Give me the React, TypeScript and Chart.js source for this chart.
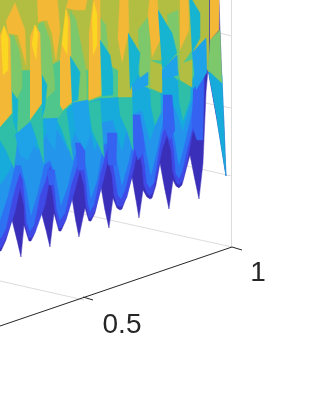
import React, { useEffect, useRef } from "react";
import { Chart, registerables } from "chart.js";

Chart.register(...registerables);

type P = number[];
// Surface regions, one list per colour band (back to front).
const indigoRegions: P[][] = [
  [[0,-5],[219,-5],[219,0],[220,30],[222,83],[224,125],[226,176],[217,120],[208,70],[206,93],[204,140],[203,163],[199,199],[195,180],[190,155],[186,170],[182,185],[179,188],[176,186],[173,180],[169,209],[165,190],[160,163],[156,185],[152,198],[150,199],[147,197],[143,190],[139,218],[136,200],[132,177],[126,198],[122,209],[120,210],[117,208],[113,198],[109,228],[105,210],[101,187],[95,213],[91,221],[89,221],[85,208],[79,237],[76,222],[72,198],[65,222],[61,231],[59,231],[54,213],[50,247],[46,230],[41,211],[34,235],[31,241],[29,241],[24,225],[21,257],[17,240],[12,220],[6,240],[1,251],[0,251]],
];
const mediumRegions: P[][] = [
  [[205,-5],[204,100],[202,135],[197,120],[192,135],[188,158],[183,180],[179,185],[176,182],[173,172],[171,150],[167,135],[162,150],[158,170],[153,192],[150,196],[147,193],[144,185],[142,165],[138,148],[134,168],[127,197],[122,206],[120,207],[117,205],[114,195],[112,175],[108,160],[104,178],[95,211],[91,218],[89,218],[86,206],[84,185],[80,170],[75,190],[66,220],[61,228],[59,228],[55,211],[53,195],[50,178],[45,205],[35,233],[31,238],[29,238],[25,224],[24,205],[20,188],[15,212],[6,238],[1,248],[0,248],[0,-5]],
];
const blueRegions: P[][] = [
  [[203,-5],[200,100],[198,110],[193,125],[187,150],[182,172],[179,178],[176,174],[174,150],[171,130],[167,120],[162,135],[159,150],[154,182],[150,188],[147,183],[145,165],[142,145],[138,135],[134,150],[131,165],[125,190],[121,199],[118,195],[115,175],[112,155],[108,145],[104,160],[100,175],[94,205],[90,211],[88,202],[86,180],[84,165],[80,155],[76,170],[71,185],[65,213],[60,220],[57,210],[55,190],[53,175],[50,165],[45,182],[40,195],[34,225],[30,231],[27,222],[25,200],[23,180],[20,172],[16,185],[12,200],[6,228],[1,238],[0,238],[0,-5]],
];
const azureRegions: P[][] = [
  [[200,-5],[196,90],[190,120],[183,150],[179,165],[175,140],[170,115],[163,120],[157,150],[151,175],[147,155],[143,130],[135,130],[129,160],[122,185],[117,160],[112,140],[103,145],[97,180],[91,198],[87,170],[82,150],[75,155],[68,185],[61,205],[56,175],[50,160],[44,165],[37,195],[31,215],[26,185],[21,165],[15,165],[8,195],[0,220],[0,-5]],
];
const cyanRegions: P[][] = [
  [[0,-5],[206,-5],[205,72],[198,88],[190,105],[183,130],[176,110],[165,95],[157,120],[150,140],[142,110],[130,115],[122,150],[113,120],[102,122],[95,150],[88,120],[78,125],[68,150],[58,130],[48,130],[38,150],[28,135],[18,135],[10,170],[0,185]],
  [[208,70],[222,75],[224,125],[226,176],[217,120]],
];
const blueColumns: P[][] = [
  [[133,115],[140,115],[145,150],[138,160],[133,140]],
  [[163,95],[172,95],[175,130],[170,140],[163,125]],
  [[193,90],[204,75],[203,140],[197,140],[192,125]],
  [[75,143],[85,143],[85,170],[78,170]],
  [[107,133],[117,133],[116,165],[108,165]],
  [[47,170],[55,170],[54,185],[49,185]],
];
const seaRegions: P[][] = [
  [[0,-5],[207,-5],[207,40],[195,72],[190,85],[178,80],[166,70],[150,90],[136,70],[118,97],[100,98],[88,102],[70,105],[60,118],[44,118],[30,122],[18,133],[0,127]],
];
const tealRegions: P[][] = [
  [[0,127],[12,113],[18,133],[14,168],[6,150],[0,140]],
  [[30,120],[42,103],[44,163],[37,140]],
  [[57,120],[66,108],[73,160],[62,130]],
  [[88,103],[100,100],[104,157],[92,130]],
  [[118,97],[132,97],[133,150],[127,130],[120,115]],
  [[150,88],[160,85],[161,112],[155,125],[151,105]],
  [[178,80],[191,75],[190,100],[183,120],[179,100]],
];
const oliveRegions: P[][] = [
  [[0,-5],[209,-5],[209,72],[192,50],[178,70],[166,60],[148,60],[132,70],[118,70],[101,60],[88,70],[60,60],[42,70],[30,70],[12,70],[0,70]],
  [[118,60],[132,60],[132,97],[118,97]],
  [[148,60],[162,65],[162,93],[150,88]],
  [[178,65],[192,60],[192,87],[180,80]],
  [[88,60],[101,60],[101,96],[88,100]],
];
const greenRegions: P[][] = [
  [[8,35],[14,36],[19,50],[22,70],[22,88],[16,100],[12,90]],
  [[38,25],[43,21],[50,40],[54,75],[55,90],[42,103]],
  [[70,10],[76,20],[82,50],[86,70],[87,100],[72,102]],
  [[98,15],[106,25],[108,50],[113,75],[113,95],[101,95]],
  [[138,30],[148,17],[150,40],[150,88],[140,85]],
  [[167,15],[178,10],[180,70],[170,60]],
  [[210,40],[220,30],[222,83],[208,70]],
];
const orangeRegions: P[][] = [
  [[0,35],[4,26],[10,38],[12,113],[0,127]],
  [[6,22],[15,3],[25,30],[26,65],[18,35],[8,33]],
  [[30,37],[35,25],[40,33],[42,103],[30,120]],
  [[37,-5],[57,-5],[60,30],[56,60],[52,33],[47,20],[38,22]],
  [[60,60],[66,8],[70,20],[72,102],[63,110],[60,105]],
  [[66,8],[70,-5],[88,-5],[85,10],[75,10]],
  [[89,35],[94,-5],[100,-5],[101,95],[89,100]],
  [[118,40],[120,-5],[128,-5],[129,30],[122,63]],
  [[148,17],[150,-5],[157,-5],[160,40],[152,57]],
  [[180,10],[180,-5],[188,-5],[189,30],[180,50]],
  [[210,-5],[219,-5],[219,30],[210,40]],
];
const yellowRegions: P[][] = [
  [[1,38],[4,26],[8,38],[8,70],[3,75]],
  [[32,45],[35,25],[38,33],[36,60]],
  [[62,45],[66,10],[68,22],[67,55]],
  [[92,20],[94,2],[97,15],[97,45],[93,55]],
];
const cyanWedges: P[][] = [
  [[12,92],[18,100],[17,133],[13,120]],
  [[42,75],[47,85],[45,108],[42,118]],
  [[70,56],[80,72],[78,100],[72,102]],
  [[100,40],[110,55],[113,75],[113,95],[102,96]],
  [[128,33],[140,53],[138,75],[132,85],[130,90]],
  [[158,10],[172,33],[177,53],[165,67],[162,68]],
  [[189,-5],[200,13],[200,38],[192,53]],
];
const azureWedges: P[][] = [
  [[162,70],[177,55],[178,75],[162,80]],
  [[192,53],[206,38],[207,72],[196,90]],
  [[132,85],[140,78],[148,72],[148,85],[133,92]],
  [[72,103],[88,100],[90,135],[85,150],[76,135]],
  [[44,120],[57,118],[55,150],[48,140]],
  [[15,135],[30,122],[36,140],[28,160],[20,155]],
];

// Box lines and axis, in the same picture units.
const wallLines: P[][] = [
  [[231.5,0],[231.5,247]],
  [[220,33],[231.5,36]],
  [[205,103],[231.5,108]],
  [[187,166],[231.5,176]],
  [[60,209],[232,247]],
  [[0,281],[84,300]],
];
const axisLine: P[] = [[0,326],[232,247]];
const axisTicks: P[][] = [
  [[83,297],[93,300]],
  [[232,247],[242,250]],
];
const tickLabels = ["0.5", "1"];
const tickLabelAnchors: P[] = [[122,333],[258,281]];

const regionBands: [P[][], string][] = [
  [indigoRegions, "#3A2FB9"],
  [mediumRegions, "#3F49E5"],
  [blueRegions, "#2E72F3"],
  [azureRegions, "#2396EC"],
  [cyanRegions, "#17ABDC"],
  [blueColumns, "#3562F0"],
  [seaRegions, "#4FC78C"],
  [tealRegions, "#2FBFA8"],
  [oliveRegions, "#B2BE42"],
  [greenRegions, "#7CC86A"],
  [orangeRegions, "#F3B836"],
  [yellowRegions, "#FBD722"],
  [cyanWedges, "#17B4D2"],
  [azureWedges, "#1FA3E8"],
];

const toXY = (pts: P[]) => pts.map(([x, y]) => ({ x, y }));

const labelPlugin = {
  id: "tickText",
  afterDatasetsDraw(chart: any) {
    const { ctx, scales } = chart;
    ctx.save();
    ctx.fillStyle = "#262626";
    ctx.font = '28px "Liberation Sans"';
    ctx.textAlign = "center";
    ctx.textBaseline = "alphabetic";
    tickLabels.forEach((t, i) => {
      const [x, y] = tickLabelAnchors[i];
      ctx.fillText(t, scales.x.getPixelForValue(x), scales.y.getPixelForValue(y));
    });
    ctx.restore();
  },
};

export default function App() {
  const ref = useRef<HTMLCanvasElement>(null);
  useEffect(() => {
    document.body.style.margin = "0";
    const datasets: any[] = [];
    const line = (pts: P[], color: string, w: number) =>
      datasets.push({ data: toXY(pts), borderColor: color, borderWidth: w, pointRadius: 0, fill: false, tension: 0 });
    wallLines.forEach((l) => line(l, "#dcdcdc", 1));
    line(axisLine, "#262626", 1);
    axisTicks.forEach((l) => line(l, "#262626", 1));
    regionBands.forEach(([regions, color]) =>
      regions.forEach((r) =>
        datasets.push({
          data: toXY(r),
          backgroundColor: color,
          borderColor: color,
          borderWidth: 0.5,
          pointRadius: 0,
          fill: "shape",
          tension: 0.001,
        })
      )
    );
    // Later datasets must paint on top: chart.js draws the first dataset last.
    datasets.reverse();
    const chart = new Chart(ref.current!, {
      type: "line",
      data: { datasets },
      plugins: [labelPlugin],
      options: {
        animation: false,
        responsive: false,
        events: [],
        layout: { padding: 0 },
        plugins: { legend: { display: false }, tooltip: { enabled: false } },
        scales: {
          x: { type: "linear", min: 0, max: 315, display: false },
          y: { type: "linear", min: 0, max: 420, reverse: true, display: false },
        },
      },
    });
    return () => chart.destroy();
  }, []);
  return <canvas ref={ref} width={315} height={420} style={{ display: "block" }} />;
}
